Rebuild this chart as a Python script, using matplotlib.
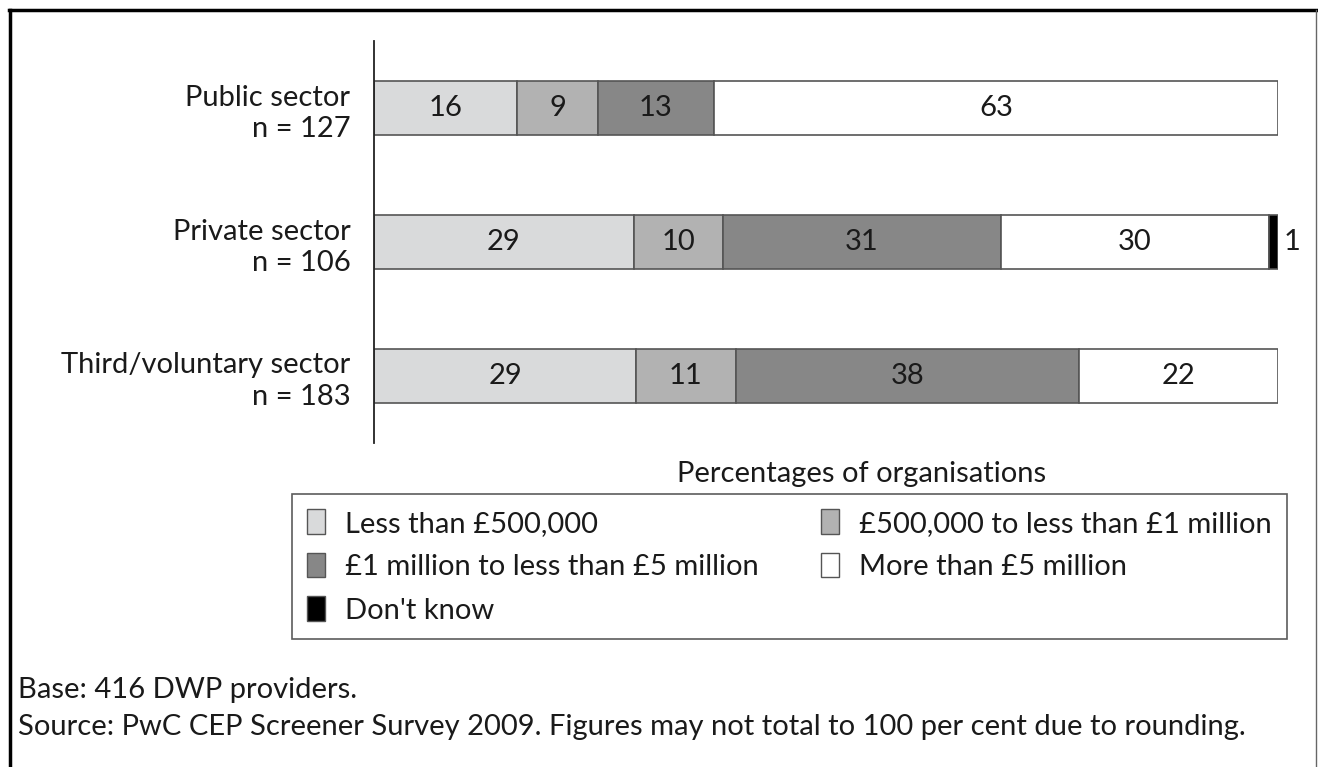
import matplotlib
matplotlib.use("Agg")
import matplotlib.pyplot as plt
from matplotlib.patches import Patch
from matplotlib.lines import Line2D
import numpy as np

plt.rcParams['font.family'] = ['Lato', 'DejaVu Sans']

categories = ["Public sector\nn = 127", "Private sector\nn = 106", "Third/voluntary sector\nn = 183"]
series_names = ["Less than £500,000", "£500,000 to less than £1 million",
                "£1 million to less than £5 million", "More than £5 million", "Don't know"]
less_500k = [16, 29, 29]
k500_to_1m = [9, 10, 11]
m1_to_5m = [13, 31, 38]
more_5m = [63, 30, 22]
dont_know = [0, 1, 0]

colors = ["#d9dadb", "#b2b2b2", "#878787", "#ffffff", "#000000"]
series = [less_500k, k500_to_1m, m1_to_5m, more_5m, dont_know]

W, H = 1318, 767
fig = plt.figure(figsize=(W / 100, H / 100), dpi=100)
ax = fig.add_axes([374 / W, 1 - 443 / H, 904 / W, 402 / H])

data = np.array(series, dtype=float)  # shape (5, 3)
totals = data.sum(axis=0)
scaled = data / totals * 100
lefts = np.zeros(3)
y = np.arange(3)
FS = 21
TC = "#1a1a1a"
for i, (vals, sc, col) in enumerate(zip(data, scaled, colors)):
    mask = vals > 0
    ax.barh(y[mask], sc[mask], left=lefts[mask], height=0.405, color=col,
            edgecolor="#555555", linewidth=1.2, zorder=2)
    for j in range(3):
        if vals[j] <= 0:
            continue
        if i == 4:
            ax.text(lefts[j] + sc[j] + 0.6, y[j], f"{int(vals[j])}", ha="left", va="center",
                    fontsize=FS, color=TC, clip_on=False)
        else:
            ax.text(lefts[j] + sc[j] / 2, y[j], f"{int(vals[j])}", ha="center", va="center",
                    fontsize=FS, color=TC)
    lefts = lefts + sc

ax.set_xlim(0, 100)
ax.set_ylim(2.5, -0.5)
ax.set_yticks(y)
ax.set_yticklabels(categories, fontsize=FS, ha="right", linespacing=1.25, color=TC)
ax.tick_params(axis="y", length=0, pad=17)
ax.set_xticks([])
for s in ["top", "right", "bottom"]:
    ax.spines[s].set_visible(False)
ax.spines["left"].set_color("#222222")
ax.spines["left"].set_linewidth(1.3)

fig.text(862 / W, 1 - 474 / H, "Percentages of organisations", ha="center", va="center",
         fontsize=FS, color=TC)

order = [0, 2, 4, 1, 3]
handles = [Patch(facecolor=colors[k], edgecolor="#555555", linewidth=1.0) for k in order]
labels = [series_names[k] for k in order]
leg = fig.legend(handles, labels, ncol=2, loc="upper left",
                 bbox_to_anchor=(292 / W, 1 - 495 / H, 995 / W, 0.001),
                 mode="expand", borderaxespad=0, fontsize=FS, frameon=True, fancybox=False,
                 handlelength=0.6, handleheight=0.9, handletextpad=0.7,
                 labelspacing=0.56, borderpad=0.52, columnspacing=0.5)
leg.get_frame().set_edgecolor("#333333")
leg.get_frame().set_linewidth(1.2)
for t in leg.get_texts():
    t.set_color(TC)

fig.text(18 / W, 1 - 690 / H, "Base: 416 DWP providers.", ha="left", va="center",
         fontsize=FS, color=TC)
fig.text(18 / W, 1 - 727 / H,
         "Source: PwC CEP Screener Survey 2009. Figures may not total to 100 per cent due to rounding.",
         ha="left", va="center", fontsize=FS, color=TC)

# outer frame
fig.add_artist(Line2D([10 / W, 10 / W], [0, 1 - 10 / H], transform=fig.transFigure,
                      color="black", linewidth=2.5))
fig.add_artist(Line2D([9 / W, 1316 / W], [1 - 10 / H, 1 - 10 / H], transform=fig.transFigure,
                      color="black", linewidth=2.5))
fig.add_artist(Line2D([1316 / W, 1316 / W], [0, 1 - 10 / H], transform=fig.transFigure,
                      color="#666666", linewidth=1.0))

fig.savefig("out.png", dpi=100)
